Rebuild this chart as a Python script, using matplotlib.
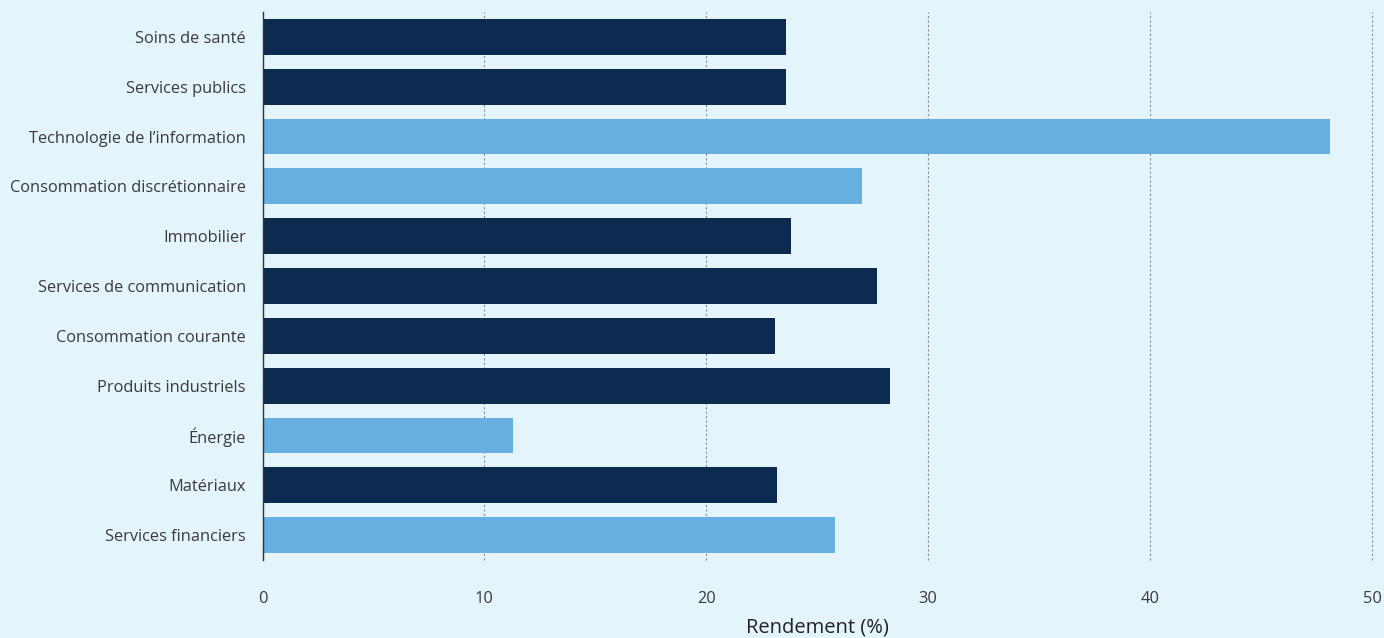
import matplotlib.pyplot as plt

plt.rcParams['font.family'] = ['Open Sans', 'DejaVu Sans']

sectors = [
    "Soins de santé",
    "Services publics",
    "Technologie de l’information",
    "Consommation discrétionnaire",
    "Immobilier",
    "Services de communication",
    "Consommation courante",
    "Produits industriels",
    "Énergie",
    "Matériaux",
    "Services financiers",
]
rendement = [23.6, 23.6, 48.1, 27.0, 23.8, 27.7, 23.1, 28.3, 11.3, 23.2, 25.8]
highlight = [False, False, True, True, False, False, False, False, True, False, True]

bg = '#E4F4FB'
dark = '#0D2A50'
light = '#67AFE0'
colors = [light if h else dark for h in highlight]

fig = plt.figure(figsize=(13.84, 6.38), dpi=100, facecolor=bg)
ax = fig.add_axes([262.5 / 1384, 1 - 560 / 638, (1372 - 262.5) / 1384, 548 / 638])
ax.set_facecolor(bg)

ypos = list(range(len(sectors)))
ax.barh(ypos, rendement, height=0.72, color=colors, zorder=3)
ax.set_ylim(len(sectors) - 0.5, -0.5)
ax.set_xlim(0, 50)
ax.set_yticks(ypos)
ax.set_yticklabels(sectors, fontsize=11.8, color='#3a3a3a')
ax.set_xticks([0, 10, 20, 30, 40, 50])
ax.tick_params(axis='x', length=0, pad=22, labelsize=11.8, labelcolor='#3a3a3a')
ax.tick_params(axis='y', length=0, pad=12)

ax.grid(axis='x', linestyle=(0, (2, 2)), color='#8a8a8a', linewidth=0.8, zorder=0)
for gl in ax.get_xgridlines():
    gl.set_clip_on(False)
for s in ['top', 'right', 'bottom']:
    ax.spines[s].set_visible(False)
ax.spines['left'].set_color('#333333')
ax.spines['left'].set_linewidth(1)
ax.spines['left'].set_zorder(4)

ax.set_xlabel('Rendement (%)', fontsize=14.5, color='#222222', labelpad=8)

plt.savefig('out.png', dpi=100, facecolor=bg)
